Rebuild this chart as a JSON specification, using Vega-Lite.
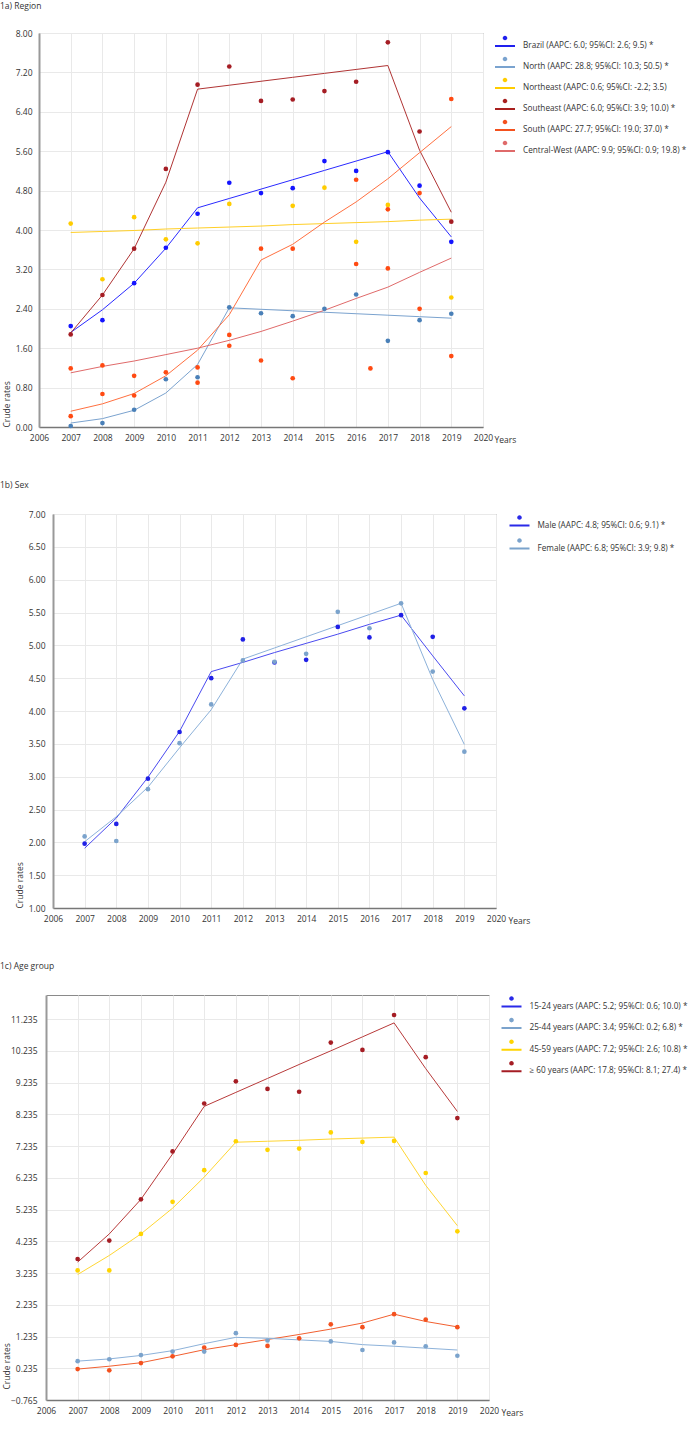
{
  "$schema": "https://vega.github.io/schema/vega-lite/v6.json",
  "padding": {"left": 0, "top": 2, "right": 0, "bottom": 0},
  "background": "white",
  "config": {
    "font": "Open Sans",
    "view": {"stroke": "#8a8a8a", "strokeWidth": 1},
    "axis": {"labelFont": "Open Sans", "labelFontSize": 8.5, "labelColor": "#333", "titleFont": "Open Sans", "titleFontSize": 8.5, "titleFontWeight": "normal", "titleColor": "#333", "gridColor": "#e9e9e9", "ticks": false},
    "legend": {"orient": "right", "offset": 10, "padding": 2, "symbolType": "M-1,-0.1L1,-0.1L1,0.1L-1,0.1Z M-0.23,-0.8 A0.23,0.23 0 1,0 0.23,-0.8 A0.23,0.23 0 1,0 -0.23,-0.8 Z", "symbolSize": 400, "symbolStrokeWidth": 0, "labelFont": "Open Sans", "labelFontSize": 8.2, "labelColor": "#333", "labelOffset": 8, "labelLimit": 400, "rowPadding": 6},
    "title": {"anchor": "start", "frame": "bounds", "font": "Open Sans", "fontSize": 8.5, "fontWeight": "normal", "color": "#333", "offset": 19}
  },
  "datasets": {
    "spacer": [{"k": 1}],
    "fitA": [
      {"s":"Brazil","year":2007,"v":1.92},{"s":"Brazil","year":2008,"v":2.38},{"s":"Brazil","year":2009,"v":2.92},{"s":"Brazil","year":2010,"v":3.63},{"s":"Brazil","year":2011,"v":4.45},{"s":"Brazil","year":2012,"v":4.64},{"s":"Brazil","year":2013,"v":4.83},{"s":"Brazil","year":2014,"v":5.02},{"s":"Brazil","year":2015,"v":5.21},{"s":"Brazil","year":2016,"v":5.40},{"s":"Brazil","year":2017,"v":5.59},{"s":"Brazil","year":2018,"v":4.65},{"s":"Brazil","year":2019,"v":3.86},
      {"s":"North","year":2007,"v":0.08},{"s":"North","year":2008,"v":0.17},{"s":"North","year":2009,"v":0.34},{"s":"North","year":2010,"v":0.69},{"s":"North","year":2011,"v":1.27},{"s":"North","year":2012,"v":2.42},{"s":"North","year":2013,"v":2.39},{"s":"North","year":2014,"v":2.36},{"s":"North","year":2015,"v":2.33},{"s":"North","year":2016,"v":2.30},{"s":"North","year":2017,"v":2.27},{"s":"North","year":2018,"v":2.24},{"s":"North","year":2019,"v":2.21},
      {"s":"Northeast","year":2007,"v":3.95},{"s":"Northeast","year":2008,"v":3.97},{"s":"Northeast","year":2009,"v":3.99},{"s":"Northeast","year":2010,"v":4.02},{"s":"Northeast","year":2011,"v":4.04},{"s":"Northeast","year":2012,"v":4.06},{"s":"Northeast","year":2013,"v":4.08},{"s":"Northeast","year":2014,"v":4.11},{"s":"Northeast","year":2015,"v":4.13},{"s":"Northeast","year":2016,"v":4.15},{"s":"Northeast","year":2017,"v":4.17},{"s":"Northeast","year":2018,"v":4.20},{"s":"Northeast","year":2019,"v":4.22},
      {"s":"Southeast","year":2007,"v":1.91},{"s":"Southeast","year":2008,"v":2.68},{"s":"Southeast","year":2009,"v":3.62},{"s":"Southeast","year":2010,"v":4.97},{"s":"Southeast","year":2011,"v":6.86},{"s":"Southeast","year":2012,"v":6.94},{"s":"Southeast","year":2013,"v":7.02},{"s":"Southeast","year":2014,"v":7.10},{"s":"Southeast","year":2015,"v":7.18},{"s":"Southeast","year":2016,"v":7.26},{"s":"Southeast","year":2017,"v":7.34},{"s":"Southeast","year":2018,"v":5.62},{"s":"Southeast","year":2019,"v":4.36},
      {"s":"South","year":2007,"v":0.32},{"s":"South","year":2008,"v":0.47},{"s":"South","year":2009,"v":0.68},{"s":"South","year":2010,"v":1.04},{"s":"South","year":2011,"v":1.56},{"s":"South","year":2012,"v":2.28},{"s":"South","year":2013,"v":3.39},{"s":"South","year":2014,"v":3.71},{"s":"South","year":2015,"v":4.16},{"s":"South","year":2016,"v":4.57},{"s":"South","year":2017,"v":5.04},{"s":"South","year":2018,"v":5.57},{"s":"South","year":2019,"v":6.10},
      {"s":"Central-West","year":2007,"v":1.10},{"s":"Central-West","year":2008,"v":1.23},{"s":"Central-West","year":2009,"v":1.34},{"s":"Central-West","year":2010,"v":1.47},{"s":"Central-West","year":2011,"v":1.60},{"s":"Central-West","year":2012,"v":1.76},{"s":"Central-West","year":2013,"v":1.94},{"s":"Central-West","year":2014,"v":2.15},{"s":"Central-West","year":2015,"v":2.37},{"s":"Central-West","year":2016,"v":2.61},{"s":"Central-West","year":2017,"v":2.84},{"s":"Central-West","year":2018,"v":3.14},{"s":"Central-West","year":2019,"v":3.43}
    ],
    "obsA": [
      {"s":"Brazil","year":2007,"v":2.05},{"s":"Brazil","year":2008,"v":2.17},{"s":"Brazil","year":2009,"v":2.92},{"s":"Brazil","year":2010,"v":3.64},{"s":"Brazil","year":2011,"v":4.33},{"s":"Brazil","year":2012,"v":4.96},{"s":"Brazil","year":2013,"v":4.75},{"s":"Brazil","year":2014,"v":4.85},{"s":"Brazil","year":2015,"v":5.40},{"s":"Brazil","year":2016,"v":5.20},{"s":"Brazil","year":2017,"v":5.58},{"s":"Brazil","year":2018,"v":4.90},{"s":"Brazil","year":2019,"v":3.76},
      {"s":"North","year":2007,"v":0.02},{"s":"North","year":2008,"v":0.08},{"s":"North","year":2009,"v":0.35},{"s":"North","year":2010,"v":0.97},{"s":"North","year":2011,"v":1.01},{"s":"North","year":2012,"v":2.43},{"s":"North","year":2013,"v":2.31},{"s":"North","year":2014,"v":2.25},{"s":"North","year":2015,"v":2.40},{"s":"North","year":2016,"v":2.69},{"s":"North","year":2017,"v":1.75},{"s":"North","year":2018,"v":2.17},{"s":"North","year":2019,"v":2.30},
      {"s":"Northeast","year":2007,"v":4.13},{"s":"Northeast","year":2008,"v":3.00},{"s":"Northeast","year":2009,"v":4.26},{"s":"Northeast","year":2010,"v":3.81},{"s":"Northeast","year":2011,"v":3.73},{"s":"Northeast","year":2012,"v":4.53},{"s":"Northeast","year":2014,"v":4.49},{"s":"Northeast","year":2015,"v":4.86},{"s":"Northeast","year":2016,"v":3.76},{"s":"Northeast","year":2017,"v":4.51},{"s":"Northeast","year":2019,"v":2.63},
      {"s":"Southeast","year":2007,"v":1.88},{"s":"Southeast","year":2008,"v":2.68},{"s":"Southeast","year":2009,"v":3.62},{"s":"Southeast","year":2010,"v":5.24},{"s":"Southeast","year":2011,"v":6.95},{"s":"Southeast","year":2012,"v":7.32},{"s":"Southeast","year":2013,"v":6.62},{"s":"Southeast","year":2014,"v":6.65},{"s":"Southeast","year":2015,"v":6.82},{"s":"Southeast","year":2016,"v":7.01},{"s":"Southeast","year":2017,"v":7.81},{"s":"Southeast","year":2018,"v":6.00},{"s":"Southeast","year":2019,"v":4.17},
      {"s":"South","year":2007,"v":0.22},{"s":"South","year":2008,"v":0.67},{"s":"South","year":2009,"v":0.64},{"s":"South","year":2010,"v":1.11},{"s":"South","year":2011,"v":0.90},{"s":"South","year":2012,"v":1.87},{"s":"South","year":2013,"v":3.62},{"s":"South","year":2014,"v":3.62},{"s":"South","year":2016,"v":5.02},{"s":"South","year":2017,"v":4.42},{"s":"South","year":2018,"v":4.75},{"s":"South","year":2019,"v":6.66},
      {"s":"Central-West","year":2007,"v":1.19},{"s":"Central-West","year":2008,"v":1.25},{"s":"Central-West","year":2009,"v":1.04},{"s":"Central-West","year":2011,"v":1.21},{"s":"Central-West","year":2012,"v":1.65},{"s":"Central-West","year":2013,"v":1.35},{"s":"Central-West","year":2014,"v":0.99},{"s":"Central-West","year":2016,"v":3.31},{"s":"Central-West","year":2016.45,"v":1.19},{"s":"Central-West","year":2017,"v":3.22},{"s":"Central-West","year":2018,"v":2.40},{"s":"Central-West","year":2019,"v":1.44}
    ],
    "legA": [
      {"label":"Brazil (AAPC: 6.0; 95%CI: 2.6; 9.5) *"},
      {"label":"North (AAPC: 28.8; 95%CI: 10.3; 50.5) *"},
      {"label":"Northeast (AAPC: 0.6; 95%CI: -2.2; 3.5)"},
      {"label":"Southeast (AAPC: 6.0; 95%CI: 3.9; 10.0) *"},
      {"label":"South (AAPC: 27.7; 95%CI: 19.0; 37.0) *"},
      {"label":"Central-West (AAPC: 9.9; 95%CI: 0.9; 19.8) *"}
    ],
    "fitB": [
      {"s":"Male","year":2007,"v":1.91},{"s":"Male","year":2008,"v":2.37},{"s":"Male","year":2009,"v":2.99},{"s":"Male","year":2010,"v":3.69},{"s":"Male","year":2011,"v":4.60},{"s":"Male","year":2012,"v":4.74},{"s":"Male","year":2013,"v":4.89},{"s":"Male","year":2014,"v":5.03},{"s":"Male","year":2015,"v":5.17},{"s":"Male","year":2016,"v":5.32},{"s":"Male","year":2017,"v":5.46},{"s":"Male","year":2018,"v":4.84},{"s":"Male","year":2019,"v":4.23},
      {"s":"Female","year":2007,"v":2.01},{"s":"Female","year":2008,"v":2.39},{"s":"Female","year":2009,"v":2.84},{"s":"Female","year":2010,"v":3.44},{"s":"Female","year":2011,"v":4.02},{"s":"Female","year":2012,"v":4.79},{"s":"Female","year":2013,"v":4.96},{"s":"Female","year":2014,"v":5.13},{"s":"Female","year":2015,"v":5.30},{"s":"Female","year":2016,"v":5.47},{"s":"Female","year":2017,"v":5.64},{"s":"Female","year":2018,"v":4.48},{"s":"Female","year":2019,"v":3.49}
    ],
    "obsB": [
      {"s":"Male","year":2007,"v":1.98},{"s":"Male","year":2008,"v":2.28},{"s":"Male","year":2009,"v":2.97},{"s":"Male","year":2010,"v":3.68},{"s":"Male","year":2011,"v":4.50},{"s":"Male","year":2012,"v":5.09},{"s":"Male","year":2013,"v":4.74},{"s":"Male","year":2014,"v":4.78},{"s":"Male","year":2015,"v":5.28},{"s":"Male","year":2016,"v":5.12},{"s":"Male","year":2017,"v":5.46},{"s":"Male","year":2018,"v":5.13},{"s":"Male","year":2019,"v":4.04},
      {"s":"Female","year":2007,"v":2.09},{"s":"Female","year":2008,"v":2.02},{"s":"Female","year":2009,"v":2.81},{"s":"Female","year":2010,"v":3.51},{"s":"Female","year":2011,"v":4.10},{"s":"Female","year":2012,"v":4.77},{"s":"Female","year":2013,"v":4.75},{"s":"Female","year":2014,"v":4.87},{"s":"Female","year":2015,"v":5.51},{"s":"Female","year":2016,"v":5.26},{"s":"Female","year":2017,"v":5.64},{"s":"Female","year":2018,"v":4.60},{"s":"Female","year":2019,"v":3.38}
    ],
    "legB": [
      {"label":"Male (AAPC: 4.8; 95%CI: 0.6; 9.1) *"},
      {"label":"Female (AAPC: 6.8; 95%CI: 3.9; 9.8) *"}
    ],
    "fitC": [
      {"s":"15-24","year":2007,"v":0.21},{"s":"15-24","year":2008,"v":0.30},{"s":"15-24","year":2009,"v":0.41},{"s":"15-24","year":2010,"v":0.61},{"s":"15-24","year":2011,"v":0.82},{"s":"15-24","year":2012,"v":0.98},{"s":"15-24","year":2013,"v":1.14},{"s":"15-24","year":2014,"v":1.30},{"s":"15-24","year":2015,"v":1.47},{"s":"15-24","year":2016,"v":1.66},{"s":"15-24","year":2017,"v":1.94},{"s":"15-24","year":2018,"v":1.71},{"s":"15-24","year":2019,"v":1.54},
      {"s":"25-44","year":2007,"v":0.46},{"s":"25-44","year":2008,"v":0.53},{"s":"25-44","year":2009,"v":0.64},{"s":"25-44","year":2010,"v":0.79},{"s":"25-44","year":2011,"v":1.01},{"s":"25-44","year":2012,"v":1.21},{"s":"25-44","year":2013,"v":1.18},{"s":"25-44","year":2014,"v":1.13},{"s":"25-44","year":2015,"v":1.08},{"s":"25-44","year":2016,"v":0.98},{"s":"25-44","year":2017,"v":0.93},{"s":"25-44","year":2018,"v":0.87},{"s":"25-44","year":2019,"v":0.81},
      {"s":"45-59","year":2007,"v":3.19},{"s":"45-59","year":2008,"v":3.79},{"s":"45-59","year":2009,"v":4.47},{"s":"45-59","year":2010,"v":5.28},{"s":"45-59","year":2011,"v":6.26},{"s":"45-59","year":2012,"v":7.36},{"s":"45-59","year":2013,"v":7.39},{"s":"45-59","year":2014,"v":7.42},{"s":"45-59","year":2015,"v":7.46},{"s":"45-59","year":2016,"v":7.49},{"s":"45-59","year":2017,"v":7.52},{"s":"45-59","year":2018,"v":6.00},{"s":"45-59","year":2019,"v":4.73},
      {"s":"60+","year":2007,"v":3.58},{"s":"60+","year":2008,"v":4.47},{"s":"60+","year":2009,"v":5.56},{"s":"60+","year":2010,"v":6.99},{"s":"60+","year":2011,"v":8.49},{"s":"60+","year":2012,"v":8.93},{"s":"60+","year":2013,"v":9.37},{"s":"60+","year":2014,"v":9.81},{"s":"60+","year":2015,"v":10.24},{"s":"60+","year":2016,"v":10.68},{"s":"60+","year":2017,"v":11.12},{"s":"60+","year":2018,"v":9.68},{"s":"60+","year":2019,"v":8.33}
    ],
    "obsC": [
      {"s":"15-24","year":2007,"v":0.21},{"s":"15-24","year":2008,"v":0.17},{"s":"15-24","year":2009,"v":0.40},{"s":"15-24","year":2010,"v":0.61},{"s":"15-24","year":2011,"v":0.89},{"s":"15-24","year":2012,"v":0.97},{"s":"15-24","year":2013,"v":0.94},{"s":"15-24","year":2014,"v":1.18},{"s":"15-24","year":2015,"v":1.62},{"s":"15-24","year":2016,"v":1.53},{"s":"15-24","year":2017,"v":1.94},{"s":"15-24","year":2018,"v":1.77},{"s":"15-24","year":2019,"v":1.53},
      {"s":"25-44","year":2007,"v":0.46},{"s":"25-44","year":2008,"v":0.52},{"s":"25-44","year":2009,"v":0.65},{"s":"25-44","year":2010,"v":0.76},{"s":"25-44","year":2011,"v":0.76},{"s":"25-44","year":2012,"v":1.34},{"s":"25-44","year":2013,"v":1.11},{"s":"25-44","year":2015,"v":1.08},{"s":"25-44","year":2016,"v":0.81},{"s":"25-44","year":2017,"v":1.05},{"s":"25-44","year":2018,"v":0.93},{"s":"25-44","year":2019,"v":0.63},
      {"s":"45-59","year":2007,"v":3.32},{"s":"45-59","year":2008,"v":3.32},{"s":"45-59","year":2009,"v":4.47},{"s":"45-59","year":2010,"v":5.48},{"s":"45-59","year":2011,"v":6.48},{"s":"45-59","year":2012,"v":7.39},{"s":"45-59","year":2013,"v":7.12},{"s":"45-59","year":2014,"v":7.16},{"s":"45-59","year":2015,"v":7.67},{"s":"45-59","year":2016,"v":7.37},{"s":"45-59","year":2017,"v":7.40},{"s":"45-59","year":2018,"v":6.39},{"s":"45-59","year":2019,"v":4.55},
      {"s":"60+","year":2007,"v":3.68},{"s":"60+","year":2008,"v":4.26},{"s":"60+","year":2009,"v":5.56},{"s":"60+","year":2010,"v":7.07},{"s":"60+","year":2011,"v":8.58},{"s":"60+","year":2012,"v":9.28},{"s":"60+","year":2013,"v":9.04},{"s":"60+","year":2014,"v":8.95},{"s":"60+","year":2015,"v":10.50},{"s":"60+","year":2016,"v":10.27},{"s":"60+","year":2017,"v":11.37},{"s":"60+","year":2018,"v":10.04},{"s":"60+","year":2019,"v":8.12}
    ],
    "legC": [
      {"label":"15-24 years (AAPC: 5.2; 95%CI: 0.6; 10.0) *"},
      {"label":"25-44 years (AAPC: 3.4; 95%CI: 0.2; 6.8) *"},
      {"label":"45-59 years (AAPC: 7.2; 95%CI: 2.6; 10.8) *"},
      {"label":"≥ 60 years (AAPC: 17.8; 95%CI: 8.1; 27.4) *"}
    ]
  },
  "concat": [
    {
      "title": {"text": "1a) Region", "offset": 18},
      "spacing": 0,
      "hconcat": [
        {"data": {"name": "spacer"}, "width": 1, "height": 1, "view": {"stroke": null}, "mark": {"type": "point", "opacity": 0, "size": 0}},
        {
          "width": 444, "height": 394,
          "layer": [
            {"data": {"name": "fitA"}, "mark": {"type": "line", "strokeWidth": 1},
             "encoding": {
               "x": {"field": "year", "type": "quantitative", "scale": {"domain": [2006, 2020], "nice": false, "zero": false},
                     "axis": {"values": [2006,2007,2008,2009,2010,2011,2012,2013,2014,2015,2016,2017,2018,2019,2020], "tickCount": 40, "format": "d", "labelFlush": false, "labelOverlap": false, "grid": true, "domainColor": "#777", "domainWidth": 1.5, "labelPadding": 6, "title": "Years", "titleX": 455, "titleY": 12, "titleAlign": "left", "titleBaseline": "middle", "titleAngle": 0}},
               "y": {"field": "v", "type": "quantitative", "scale": {"domain": [0, 8], "nice": false, "zero": false},
                     "axis": {"values": [0,0.8,1.6,2.4,3.2,4,4.8,5.6,6.4,7.2,8], "tickCount": 40, "format": ".2f", "labelOverlap": false, "grid": true, "domainColor": "#999", "domainWidth": 2, "labelPadding": 7, "title": "Crude rates", "titleAnchor": "start", "titleX": -37, "titleBaseline": "top"}},
               "color": {"field": "s", "type": "nominal", "scale": {"domain": ["Brazil","North","Northeast","Southeast","South","Central-West"], "range": ["#2a2aff","#7ba3cf","#ffcf26","#b03434","#ff7040","#e06a6a"]}, "legend": null}
             }},
            {"data": {"name": "obsA"}, "mark": {"type": "point", "filled": true, "opacity": 1, "size": 22},
             "encoding": {
               "x": {"field": "year", "type": "quantitative"},
               "y": {"field": "v", "type": "quantitative"},
               "color": {"field": "s", "type": "nominal", "scale": {"domain": ["Brazil","North","Northeast","Southeast","South","Central-West"], "range": ["#1414ff","#4a80b8","#ffcc00","#a51d24","#ff4a12","#ff4a12"]}, "legend": null}
             }},
            {"data": {"name": "legA"}, "mark": {"type": "point", "filled": true, "opacity": 0},
             "encoding": {
               "color": {"field": "label", "type": "nominal", "scale": {"domain": ["Brazil (AAPC: 6.0; 95%CI: 2.6; 9.5) *","North (AAPC: 28.8; 95%CI: 10.3; 50.5) *","Northeast (AAPC: 0.6; 95%CI: -2.2; 3.5)","Southeast (AAPC: 6.0; 95%CI: 3.9; 10.0) *","South (AAPC: 27.7; 95%CI: 19.0; 37.0) *","Central-West (AAPC: 9.9; 95%CI: 0.9; 19.8) *"], "range": ["#2020ee","#7aa3cf","#ffcc00","#a8201f","#f4511e","#df6a6a"]}, "legend": {"title": null, "padding": 3, "offset": 9, "rowPadding": 6}}
             }}
          ],
          "resolve": {"scale": {"color": "independent"}}
        }
      ]
    },
    {
      "title": {"text": "\u00a0\u00a0\u00a0\u00a0\u00a0\u00a01b) Sex", "offset": 20},
      "spacing": 0,
      "hconcat": [
        {"data": {"name": "spacer"}, "width": 14, "height": 1, "view": {"stroke": null}, "mark": {"type": "point", "opacity": 0, "size": 0}},
        {
          "width": 443, "height": 394,
          "layer": [
            {"data": {"name": "fitB"}, "mark": {"type": "line", "strokeWidth": 1},
             "encoding": {
               "x": {"field": "year", "type": "quantitative", "scale": {"domain": [2006, 2020], "nice": false, "zero": false},
                     "axis": {"values": [2006,2007,2008,2009,2010,2011,2012,2013,2014,2015,2016,2017,2018,2019,2020], "tickCount": 40, "format": "d", "labelFlush": false, "labelOverlap": false, "grid": true, "domainColor": "#777", "domainWidth": 1.5, "labelPadding": 6, "title": "Years", "titleX": 455, "titleY": 12, "titleAlign": "left", "titleBaseline": "middle", "titleAngle": 0}},
               "y": {"field": "v", "type": "quantitative", "scale": {"domain": [1, 7], "nice": false, "zero": false},
                     "axis": {"values": [1,1.5,2,2.5,3,3.5,4,4.5,5,5.5,6,6.5,7], "tickCount": 40, "format": ".2f", "labelOverlap": false, "grid": true, "domainColor": "#999", "domainWidth": 2, "labelPadding": 8, "title": "Crude rates", "titleAnchor": "start", "titleX": -38, "titleBaseline": "top"}},
               "color": {"field": "s", "type": "nominal", "scale": {"domain": ["Male","Female"], "range": ["#4a4af0","#8db2da"]}, "legend": null}
             }},
            {"data": {"name": "obsB"}, "mark": {"type": "point", "filled": true, "opacity": 1, "size": 22},
             "encoding": {
               "x": {"field": "year", "type": "quantitative"},
               "y": {"field": "v", "type": "quantitative"},
               "color": {"field": "s", "type": "nominal", "scale": {"domain": ["Male","Female"], "range": ["#2020e6","#7ba3cc"]}, "legend": null}
             }},
            {"data": {"name": "legB"}, "mark": {"type": "point", "filled": true, "opacity": 0},
             "encoding": {
               "color": {"field": "label", "type": "nominal", "scale": {"domain": ["Male (AAPC: 4.8; 95%CI: 0.6; 9.1) *","Female (AAPC: 6.8; 95%CI: 3.9; 9.8) *"], "range": ["#2a2ae8","#7ba3cc"]}, "legend": {"title": null, "rowPadding": 8, "padding": 1.5, "offset": 11.5}}
             }}
          ],
          "resolve": {"scale": {"color": "independent"}}
        }
      ]
    },
    {
      "title": {"text": "1c) Age group", "offset": 24},
      "spacing": 0,
      "hconcat": [
        {"data": {"name": "spacer"}, "width": 1, "height": 1, "view": {"stroke": null}, "mark": {"type": "point", "opacity": 0, "size": 0}},
        {
          "width": 443, "height": 405,
          "layer": [
            {"data": {"name": "fitC"}, "mark": {"type": "line", "strokeWidth": 1},
             "encoding": {
               "x": {"field": "year", "type": "quantitative", "scale": {"domain": [2006, 2020], "nice": false, "zero": false},
                     "axis": {"values": [2006,2007,2008,2009,2010,2011,2012,2013,2014,2015,2016,2017,2018,2019,2020], "tickCount": 40, "format": "d", "labelFlush": false, "labelOverlap": false, "grid": true, "domainColor": "#777", "domainWidth": 1.5, "labelPadding": 6, "title": "Years", "titleX": 455, "titleY": 12, "titleAlign": "left", "titleBaseline": "middle", "titleAngle": 0}},
               "y": {"field": "v", "type": "quantitative", "scale": {"domain": [-0.765, 12.0], "nice": false, "zero": false},
                     "axis": {"values": [-0.765,0.235,1.235,2.235,3.235,4.235,5.235,6.235,7.235,8.235,9.235,10.235,11.235], "tickCount": 40, "format": ".3f", "labelOverlap": false, "grid": true, "domainColor": "#999", "domainWidth": 2, "labelPadding": 9, "title": "Crude rates", "titleX": -44, "titleY": 394, "titleAlign": "left", "titleBaseline": "top"}},
               "color": {"field": "s", "type": "nominal", "scale": {"domain": ["15-24","25-44","45-59","60+"], "range": ["#f26030","#8db2da","#ffd633","#b83a3a"]}, "legend": null}
             }},
            {"data": {"name": "obsC"}, "mark": {"type": "point", "filled": true, "opacity": 1, "size": 22},
             "encoding": {
               "x": {"field": "year", "type": "quantitative"},
               "y": {"field": "v", "type": "quantitative"},
               "color": {"field": "s", "type": "nominal", "scale": {"domain": ["15-24","25-44","45-59","60+"], "range": ["#f4511e","#7ba3cc","#ffd400","#a51d24"]}, "legend": null}
             }},
            {"data": {"name": "legC"}, "mark": {"type": "point", "filled": true, "opacity": 0},
             "encoding": {
               "color": {"field": "label", "type": "nominal", "scale": {"domain": ["15-24 years (AAPC: 5.2; 95%CI: 0.6; 10.0) *","25-44 years (AAPC: 3.4; 95%CI: 0.2; 6.8) *","45-59 years (AAPC: 7.2; 95%CI: 2.6; 10.8) *","≥ 60 years (AAPC: 17.8; 95%CI: 8.1; 27.4) *"], "range": ["#2a2ae8","#7ba3cc","#ffd400","#a51d24"]}, "legend": {"title": null, "rowPadding": 6.6, "padding": 1.5, "offset": 10.5}}
             }}
          ],
          "resolve": {"scale": {"color": "independent"}}
        }
      ]
    }
  ],
  "columns": 1,
  "align": "none",
  "spacing": 37
}
